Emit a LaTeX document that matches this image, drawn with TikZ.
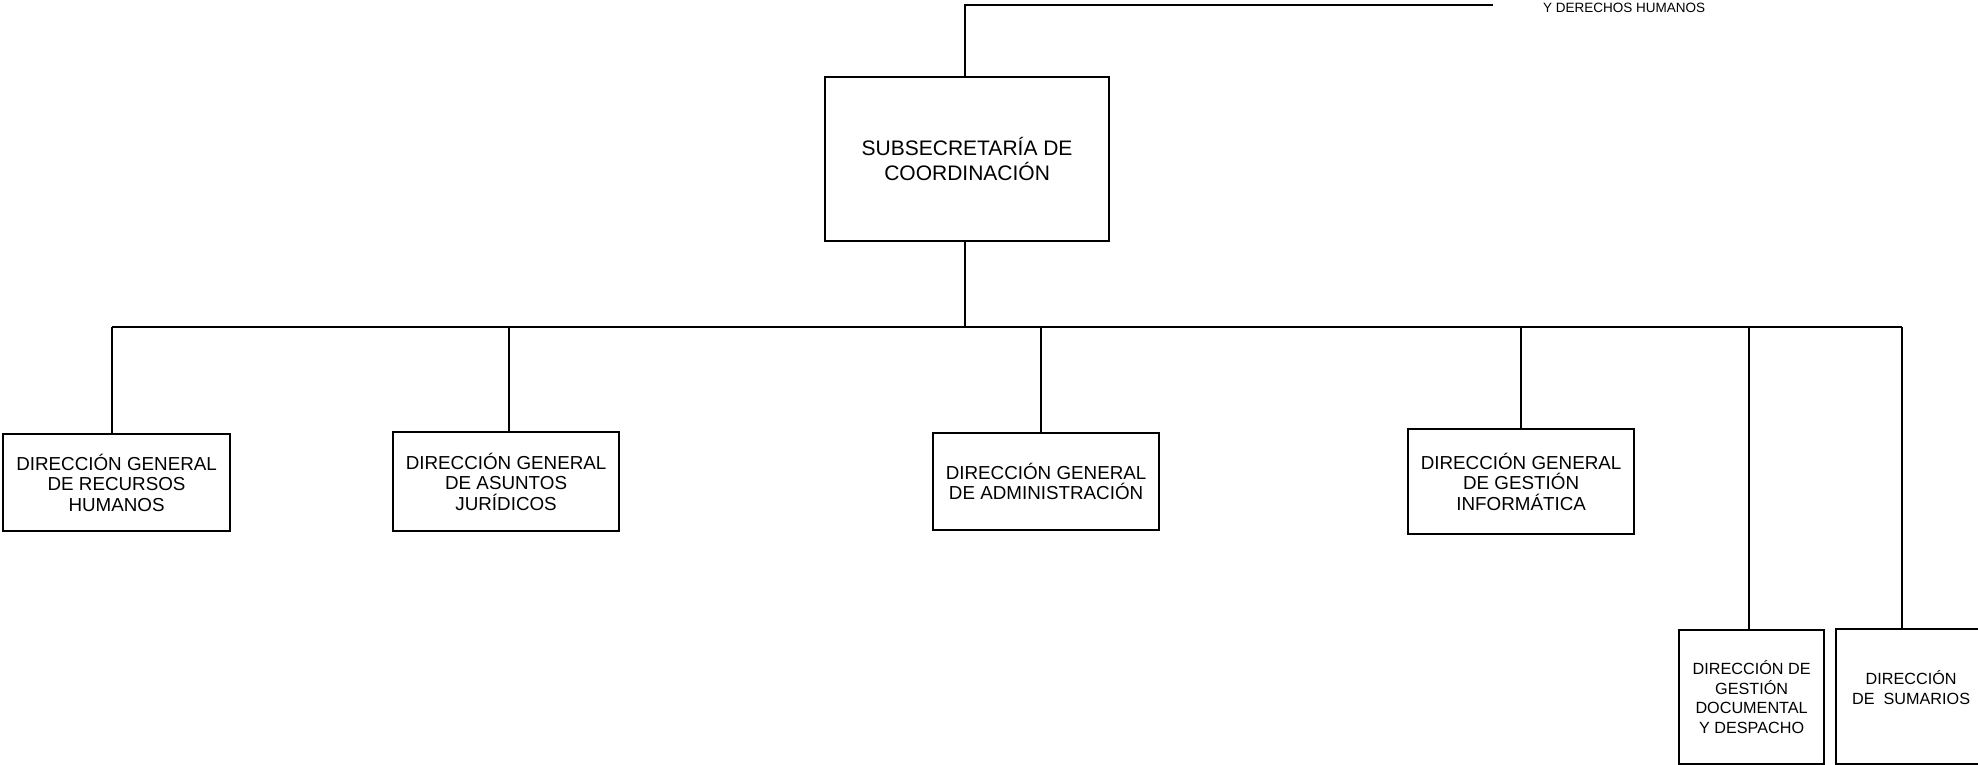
\documentclass[tikz,border=0pt]{standalone}
\usepackage{fontspec}
\setmainfont{Liberation Sans}
\begin{document}
\begin{tikzpicture}[x=1pt,y=-1pt,
  box/.style={draw, line width=2.2pt, align=center, inner sep=0pt, anchor=north west},
  big/.style={font=\fontsize{21}{25}\selectfont},
  mid/.style={font=\fontsize{18.8}{20.5}\selectfont},
  small/.style={font=\fontsize{16.2}{19.4}\selectfont},
  ln/.style={line width=2pt},
]
\useasboundingbox (0,0) rectangle (1978,764);

\node[box, big, minimum width=284pt, minimum height=164pt] (sub) at (824,76) {SUBSECRETARÍA DE\\COORDINACIÓN};
\node[box, mid, minimum width=227pt, minimum height=97pt] (rh) at (2,433) {DIRECCIÓN GENERAL\\DE RECURSOS\\HUMANOS};
\node[box, mid, minimum width=226pt, minimum height=99pt] (aj) at (392,431) {DIRECCIÓN GENERAL\\DE ASUNTOS\\JURÍDICOS};
\node[box, mid, minimum width=226pt, minimum height=97pt] (adm) at (932,432) {DIRECCIÓN GENERAL\\DE ADMINISTRACIÓN};
\node[box, mid, minimum width=226pt, minimum height=105pt] (gi) at (1407,428) {DIRECCIÓN GENERAL\\DE GESTIÓN\\INFORMÁTICA};
\node[box, small, minimum width=145pt, minimum height=134pt] (gd) at (1678,629) {DIRECCIÓN DE\\GESTIÓN\\DOCUMENTAL\\Y DESPACHO};
\node[box, small, minimum width=150pt, minimum height=135pt, text depth=18pt] (sum) at (1835,628) {DIRECCIÓN\\DE\ \ SUMARIOS};

\node[font=\fontsize{13.5}{16}\selectfont, anchor=west, inner sep=0pt] (dh) at (1543,8) {Y DERECHOS HUMANOS};

\coordinate (topR) at (1493,5);
\coordinate (busL) at (112,327);
\coordinate (busR) at (1902,327);

\draw[ln] ([xshift=-2pt]sub.north) |- (topR);
\draw[ln] ([xshift=-2pt]sub.south) -- ([xshift=-2pt]sub.south |- busL);
\draw[ln] (busL) -- (busR);
\draw[ln] (busL) -- (busL |- rh.north);
\draw[ln] ([xshift=3pt]aj.north) -- ([xshift=3pt]aj.north |- busL);
\draw[ln] ([xshift=-5pt]adm.north) -- ([xshift=-5pt]adm.north |- busL);
\draw[ln] (gi.north) -- (gi.north |- busL);
\draw[ln] ([xshift=-3pt]gd.north) -- ([xshift=-3pt]gd.north |- busL);
\draw[ln] (busR) -- (busR |- sum.north);
\end{tikzpicture}
\end{document}
